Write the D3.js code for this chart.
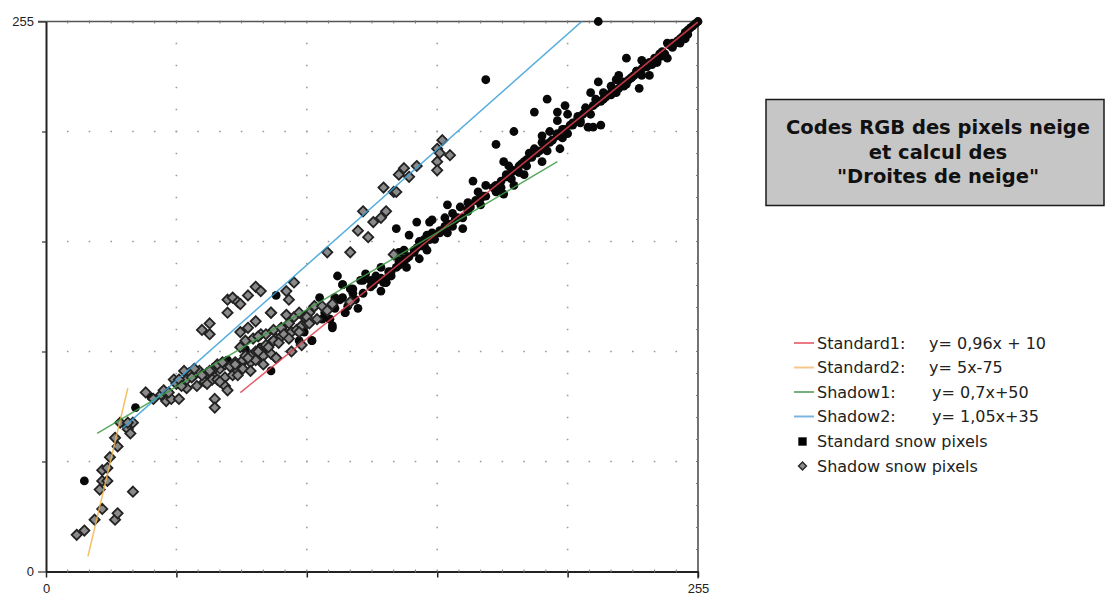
<!DOCTYPE html>
<html><head><meta charset="utf-8">
<script src="https://cdn.jsdelivr.net/npm/d3@7"></script>
<style>body{margin:0;background:#fff}svg{display:block}</style>
</head><body>
<svg id="chart" width="1107" height="595"></svg>
<script>
// ---- data (R/G values) ----
const axisTickLabels = ["0", "255"];
const gridValues = [51, 102, 153, 204];

const lineNames = ["Standard1:", "Standard2:", "Shadow1:", "Shadow2:"];
const lineEquations = ["y= 0,96x + 10", "y= 5x-75", "y= 0,7x+50", "y= 1,05x+35"];
const lineSlopes = [0.96, 5, 0.7, 1.05];
const lineIntercepts = [10, -75, 50, 35];
const lineXStart = [76, 16.4, 20, 30];
const lineXEnd = [255, 32, 200, 212];
const lineColors = ["#e0404c", "#f0b548", "#3c9c44", "#3a9fd6"];
const legendLineColors = ["#ea7a84", "#f5c88a", "#76b07c", "#7ab4e0"];

const pointSeries = ["Standard snow pixels", "Shadow snow pixels"];

// Standard snow pixels [x, y]
const standardX = [15,35,41,71,78,82,88,90,99,90,107,112,109,111,112,108,104,
 116,114,125,123,127,129,131,133,135,119,120,116,113,117,109,
 167,172,175,169,176,179,172,168,170,165,162,157,165,159,156,163,151,150,145,137,158,159,156,154,157,163,151,149,142,148,146,150,152,148,146,149,144,140,138,142,140,146,138,141,137,135,131,134,129,132,124,133,120,116,113,115,113,117,112,111,122,127,
 183,176,172,216,191,196,203,200,204,211,213,208,209,212,214,217,209,206,200,202,197,194,200,204,198,202,194,191,193,196,201,189,194,190,187,188,179,181,183,185,180,182,187,183,178,
 243,245,248,250,251,255,227,233,241,243,239,235,237,224,231,233,236,229,223,225,226,232,216,221,218,223,213,215,217,221,
 218,221,224,228,230,233,236,240,244,247,250,252,227,239,242,246,249,253,
 180,185,188,192,197,200,205,208,212,214,
 140,145,150,155,160,165,170,175,104,
 118,121,124,128,131,134,138,141,144,147,151,154,157,161,166,171,176,178,182,186,190,195,198,203,206,210,215,219,222,226,229,231,234,238,241,245,248,251,254,
 60,66,74,84,95,101];
const standardY = [42,76,81,98,103,100,93,99,107,128,127,124,118,117,113,117,107,
 133,137,138,135,135,135,130,134,137,131,129,127,126,120,120,
 181,179,178,176,176,175,174,172,170,171,169,170,167,166,164,164,163,162,162,159,161,160,160,158,157,159,157,156,156,154,153,154,154,151,151,149,149,149,148,146,144,145,144,141,141,139,141,137,137,134,135,134,131,133,127,126,122,120,114,117,122,132,
 204,198,228,255,213,219,216,213,212,215,212,211,209,206,206,207,208,207,209,205,204,202,203,203,200,201,199,196,195,195,196,194,190,192,190,188,190,188,186,185,183,182,184,179,178,
 245,243,245,247,249,255,238,237,239,238,236,234,235,230,232,230,230,229,228,226,225,224,227,225,222,222,222,219,218,221,
 219,222,224,228,230,233,236,240,244,246,250,252,226,237,240,245,248,253,
 184,188,191,194,199,202,207,210,214,216,
 145,150,154,158,163,168,173,178,107,
 123,126,129,133,136,139,142,145,148,151,155,157,161,164,169,174,179,181,185,189,193,197,200,205,208,212,217,220,223,227,229,232,235,238,241,245,247,251,254,
 92,95,97,104,108,111];

// Shadow snow pixels [x, y]
const shadowX = [12,15,19,22,21,22,24,22,24,25,27,28,27,28,34,29,32,32,33,34,32,
 45,47,49,52,50,51,55,56,58,60,63,65,66,68,70,72,74,76,77,78,80,82,84,86,88,90,92,94,96,98,100,102,101,103,105,
 59,62,65,67,70,73,75,77,80,82,85,88,90,86,70,71,66,66,55,52,58,54,76,78,81,84,86,89,92,93,95,97,99,94,88,
 61,64,64,71,71,73,75,76,79,82,84,97,94,95,88,82,76,79,83,89,105,108,102,119,112,110,119,136,
 155,153,154,158,153,153,145,140,138,142,132,136,137,133,131,128,124,122,126,
 46,48,53,57,61,64,67,69,74,79,83,87,91,95,99,103,106,110,63,68,75,80,85,90,96,100,42,39];
const shadowY = [17,19,24,29,38,42,42,47,48,53,62,58,24,27,37,69,67,66,64,69,69,
 82,79,80,80,89,87,85,92,91,93,92,93,90,94,96,95,97,96,98,100,100,102,103,104,106,108,109,110,111,112,114,115,118,120,123,
 86,88,89,89,90,91,93,94,97,98,100,101,99,105,86,84,80,76,89,89,94,93,104,107,108,110,110,112,113,110,115,118,120,119,120,
 112,115,110,120,126,127,125,124,128,132,130,134,130,126,120,116,111,113,109,107,123,123,118,125,124,148,148,147,
 200,196,194,193,190,186,188,187,184,183,178,176,176,167,164,162,167,158,155,
 84,83,86,90,91,93,96,97,96,99,102,104,106,108,111,115,117,121,87,88,91,93,96,99,102,105,80,83];

// ---- layout ----
const svg = d3.select("#chart");
const X0 = 46, X1 = 698, Y0 = 571.5, Y1 = 21.5;
const x = d3.scaleLinear().domain([0, 255]).range([X0, X1]);
const y = d3.scaleLinear().domain([0, 255]).range([Y0, Y1]);

svg.append("defs").append("clipPath").attr("id", "plotclip")
  .append("rect").attr("x", X0).attr("y", Y1 - 6).attr("width", X1 - X0 + 6).attr("height", Y0 - Y1 + 6);
svg.append("defs").append("clipPath").attr("id", "lineclip")
  .append("rect").attr("x", X0).attr("y", Y1).attr("width", X1 - X0).attr("height", Y0 - Y1);

// dotted grid
const grid = svg.append("g").attr("stroke", "#9a9a9a").attr("stroke-width", 1.6);
gridValues.forEach(v => {
  grid.append("line").attr("x1", X0).attr("x2", X1).attr("y1", y(v)).attr("y2", y(v))
    .attr("stroke-dasharray", "1.6," + ((X1 - X0) / 30 - 1.6)).attr("stroke-dashoffset", -((X1 - X0) / 30 - 0.8));
  grid.append("line").attr("x1", x(v)).attr("x2", x(v)).attr("y1", Y0).attr("y2", Y1)
    .attr("stroke-dasharray", "1.6," + ((Y0 - Y1) / 25 - 1.6)).attr("stroke-dashoffset", -((Y0 - Y1) / 25 - 0.8));
});

// frame: top & right borders
svg.append("line").attr("x1", X0 - 8).attr("x2", X1).attr("y1", Y1).attr("y2", Y1)
  .attr("stroke", "#555").attr("stroke-width", 1.5);
svg.append("line").attr("x1", X1).attr("x2", X1).attr("y1", Y1).attr("y2", Y0 + 7)
  .attr("stroke", "#444").attr("stroke-width", 1.5);

// axes
const xAxis = d3.axisBottom(x).tickValues([0, 51, 102, 153, 204, 255]).tickFormat(d => (d === 0 || d === 255) ? String(d) : "").tickSize(6).tickSizeOuter(0);
const gx = svg.append("g").attr("transform", `translate(0,${Y0})`).call(xAxis);
gx.select(".domain").attr("stroke", "#222").attr("stroke-width", 2);
gx.selectAll(".tick line").attr("stroke", "#222").attr("stroke-width", 1.5);
gx.selectAll(".tick text").attr("font-family", "Liberation Sans, Arial, sans-serif").attr("font-size", 13).attr("fill", "#222").attr("dy", "0.95em");

const yAxis = d3.axisLeft(y).tickValues([0, 51, 102, 153, 204, 255]).tickFormat(d => (d === 0 || d === 255) ? String(d) : "").tickSize(4).tickSizeOuter(0);
const gy = svg.append("g").attr("transform", `translate(${X0},0)`).call(yAxis);
gy.select(".domain").attr("stroke", "#222").attr("stroke-width", 2);
gy.selectAll(".tick line").attr("stroke", "#333").attr("stroke-width", 1.2);
gy.selectAll(".tick").filter(d => d === 0 || d === 255).select("line").attr("x2", -8);
gy.selectAll(".tick text").attr("font-family", "Liberation Sans, Arial, sans-serif").attr("font-size", 13).attr("fill", "#222").attr("x", -12);

// minor ticks
const minorG = svg.append("g").attr("stroke", "#777").attr("stroke-width", 1);
d3.range(1, 30).forEach(i => {
  const px = X0 + i * (X1 - X0) / 30;
  minorG.append("line").attr("x1", px).attr("x2", px).attr("y1", Y0 - 2).attr("y2", Y0 + 1);
  minorG.append("line").attr("x1", px).attr("x2", px).attr("y1", Y1 - 1).attr("y2", Y1 + 2);
});
d3.range(1, 25).forEach(i => {
  const py = Y0 - i * (Y0 - Y1) / 25;
  minorG.append("line").attr("x1", X1 - 2).attr("x2", X1 + 1).attr("y1", py).attr("y2", py);
});

// points
const plot = svg.append("g").attr("clip-path", "url(#plotclip)");
const shadowData = shadowX.map((v, i) => [v, shadowY[i]]);
const standardData = standardX.map((v, i) => [v, standardY[i]]);
const diamond = d3.symbol().type(d3.symbolDiamond2).size(66);

plot.append("g").selectAll("circle").data(standardData).join("circle")
  .attr("cx", d => x(d[0])).attr("cy", d => y(d[1])).attr("r", 4.4)
  .attr("fill", "#080808");
plot.append("g").selectAll("path").data(shadowData).join("path")
  .attr("d", diamond).attr("transform", d => `translate(${x(d[0])},${y(d[1])})`)
  .attr("fill", "#8a8a8a").attr("stroke", "#222").attr("stroke-width", 1.8);

// fitted lines
const lineG = svg.append("g").attr("clip-path", "url(#lineclip)");
lineNames.forEach((n, i) => {
  const xa = lineXStart[i], xb = lineXEnd[i];
  lineG.append("line")
    .attr("x1", x(xa)).attr("y1", y(lineSlopes[i] * xa + lineIntercepts[i]))
    .attr("x2", x(xb)).attr("y2", y(lineSlopes[i] * xb + lineIntercepts[i]))
    .attr("stroke", lineColors[i]).attr("stroke-width", 1.5).attr("stroke-opacity", 0.85);
});

// title box
const tb = svg.append("g");
tb.append("rect").attr("x", 766).attr("y", 99.5).attr("width", 338).attr("height", 106)
  .attr("fill", "#c6c6c6").attr("stroke", "#1a1a1a").attr("stroke-width", 1.5);
const titleLines = ["Codes RGB des pixels neige", "et calcul des", "\"Droites de neige\""];
titleLines.forEach((t, i) => {
  tb.append("text").attr("x", 938).attr("y", 134 + i * 24.5).attr("text-anchor", "middle")
    .attr("font-family", "DejaVu Sans, sans-serif").attr("font-weight", "bold").attr("font-size", 19.5)
    .attr("fill", "#111").text(t);
});

// legend
const lg = svg.append("g").attr("font-family", "DejaVu Sans, sans-serif").attr("font-size", 16).attr("fill", "#222");
const eqX = [929, 929, 932, 932];
lineNames.forEach((n, i) => {
  const cy = 343 + i * 24.5;
  lg.append("line").attr("x1", 794).attr("x2", 814).attr("y1", cy).attr("y2", cy)
    .attr("stroke", legendLineColors[i]).attr("stroke-width", 2);
  lg.append("text").attr("x", 817).attr("y", cy).attr("dy", "0.36em").text(n);
  lg.append("text").attr("x", eqX[i]).attr("y", cy).attr("dy", "0.36em").text(lineEquations[i]);
});
lg.append("path").attr("d", d3.symbol().type(d3.symbolSquare).size(70)).attr("transform", "translate(802.5,441.5)").attr("fill", "#000");
lg.append("text").attr("x", 817).attr("y", 441.5).attr("dy", "0.36em").text(pointSeries[0]);
lg.append("path").attr("d", d3.symbol().type(d3.symbolDiamond2).size(40)).attr("transform", "translate(802.5,466)")
  .attr("fill", "#8c8c8c").attr("stroke", "#262626").attr("stroke-width", 1.4);
lg.append("text").attr("x", 817).attr("y", 466).attr("dy", "0.36em").text(pointSeries[1]);
</script>
</body></html>
